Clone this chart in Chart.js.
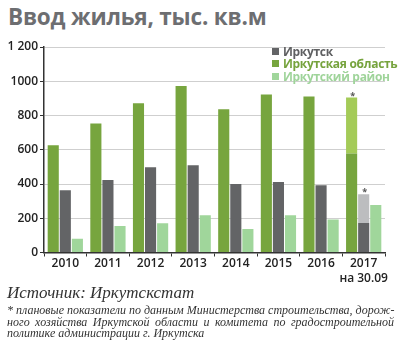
<!DOCTYPE html>
<html lang="ru">
<head>
<meta charset="utf-8">
<title>Ввод жилья</title>
<script src="https://cdn.jsdelivr.net/npm/chart.js@4"></script>
<style>
  html, body { margin: 0; padding: 0; background: #fff; }
  body { width: 400px; height: 350px; position: relative; overflow: hidden; }
  h1 {
    position: absolute; left: 8px; top: 1px; margin: 0;
    font: bold 22.5px "Open Sans", sans-serif; color: #6d6e71; letter-spacing: -0.2px;
  }
  #wrap { position: absolute; left: 0; top: 36px; width: 400px; height: 250px; }
  .legend { position: absolute; left: 272px; top: 46px; font: bold 12px "Open Sans", sans-serif; letter-spacing: -0.3px; }
  .legend div { height: 12px; line-height: 12px; margin-bottom: 0.3px; white-space: nowrap; }
  .legend span { display: inline-block; width: 7px; height: 7px; margin-right: 4px; vertical-align: 1px; }
  .source {
    position: absolute; left: 7px; top: 283px;
    font: italic 17px "Liberation Serif", serif; color: #333;
  }
  .note {
    position: absolute; left: 7px; top: 305px; width: 387px;
    font: italic 12px "Liberation Serif", serif; color: #333; line-height: 11.5px;
  }
  .note div { text-align: justify; text-align-last: justify; white-space: nowrap; }
  .note div.last { text-align-last: left; }
</style>
</head>
<body>
<h1>Ввод жилья, тыс. кв.м</h1>
<div id="wrap"><canvas id="chart" width="400" height="250"></canvas></div>
<div class="legend">
  <div style="color:#5f6062"><span style="background:#636466"></span>Иркутск</div>
  <div style="color:#76a33d"><span style="background:#77a53e"></span>Иркутская область</div>
  <div style="color:#9fd49a"><span style="background:#a0d69b"></span>Иркутский район</div>
</div>
<div class="source">Источник: Иркутскстат</div>
<div class="note">
  <div>* плановые показатели по данным Министерства строительства, дорож-</div>
  <div>ного хозяйства Иркутской области и комитета по градостроительной</div>
  <div class="last">политике администрации г. Иркутска</div>
</div>
<script>
// годы
const years = ["2010", "2011", "2012", "2013", "2014", "2015", "2016", ["2017", "на 30.09"]];

// ввод жилья, тыс. кв.м (2017 — факт на 30.09)
const oblast = [627, 753, 872, 972, 837, 923, 911, 578];
const irkutsk = [364, 424, 498, 510, 400, 412, 393, 172];
const raion = [81, 155, 171, 217, 137, 217, 192, 278];

// плановые показатели на 2017 год
const oblastPlan2017 = 905;
const irkutskPlan2017 = 340;

const yTicks = [0, 200, 400, 600, 800, 1000, 1200];
const yTickLabels = ["0", "200", "400", "600", "800", "1000", "1 200"];

// план сверх факта — надстройка над столбцом 2017
function planPart(actual, plan) {
  return actual.map((v, i) => (i === actual.length - 1 ? plan - v : null));
}

// звёздочки над плановыми столбцами
const asterisks = {
  id: "asterisks",
  afterDatasetsDraw(chart) {
    const ctx = chart.ctx;
    ctx.save();
    ctx.fillStyle = "#555";
    ctx.font = "bold 9px 'Open Sans', sans-serif";
    ctx.textAlign = "center";
    ctx.textBaseline = "bottom";
    [1, 3].forEach(function (idx) {
      const bar = chart.getDatasetMeta(idx).data[years.length - 1];
      ctx.fillText("*", bar.x + 1, bar.y + 3);
    });
    ctx.restore();
  },
};

const tickFont = { family: "'Open Sans', sans-serif", size: 12, weight: "600" };

new Chart(document.getElementById("chart").getContext("2d"), {
  type: "bar",
  data: {
    labels: years,
    datasets: [
      { label: "Иркутская область", data: oblast, backgroundColor: "#77a53e", stack: "a" },
      { label: "Иркутская область, план", data: planPart(oblast, oblastPlan2017), backgroundColor: "#a4cb58", stack: "a" },
      { label: "Иркутск", data: irkutsk, backgroundColor: "#636466", stack: "b" },
      { label: "Иркутск, план", data: planPart(irkutsk, irkutskPlan2017), backgroundColor: "#bcbdbf", stack: "b" },
      { label: "Иркутский район", data: raion, backgroundColor: "#a0d69b", stack: "c" },
    ],
  },
  options: {
    responsive: false,
    animation: false,
    layout: { padding: { top: 11, right: 15, left: 0, bottom: 0 } },
    datasets: { bar: { categoryPercentage: 0.85, barPercentage: 0.92 } },
    plugins: { legend: { display: false }, tooltip: { enabled: false } },
    scales: {
      x: {
        stacked: true,
        grid: { drawOnChartArea: false, tickLength: 4, tickColor: "#333", offset: true },
        border: { color: "#333", width: 1.5 },
        ticks: { color: "#222", font: tickFont, padding: 0, maxRotation: 0, autoSkip: false },
        afterFit(scale) { scale.height = 33.5; },
      },
      y: {
        stacked: true,
        min: 0,
        max: 1200,
        afterBuildTicks(scale) { scale.ticks = yTicks.map((v) => ({ value: v })); },
        grid: { color: "#cfcfcf", tickLength: 4, tickColor: "#333" },
        border: { color: "#333", width: 1.5 },
        ticks: {
          color: "#222",
          font: tickFont,
          padding: 2,
          callback: (v) => yTickLabels[yTicks.indexOf(v)],
        },
        afterFit(scale) { scale.width = 44; },
      },
    },
  },
  plugins: [asterisks],
});
</script>
</body>
</html>
